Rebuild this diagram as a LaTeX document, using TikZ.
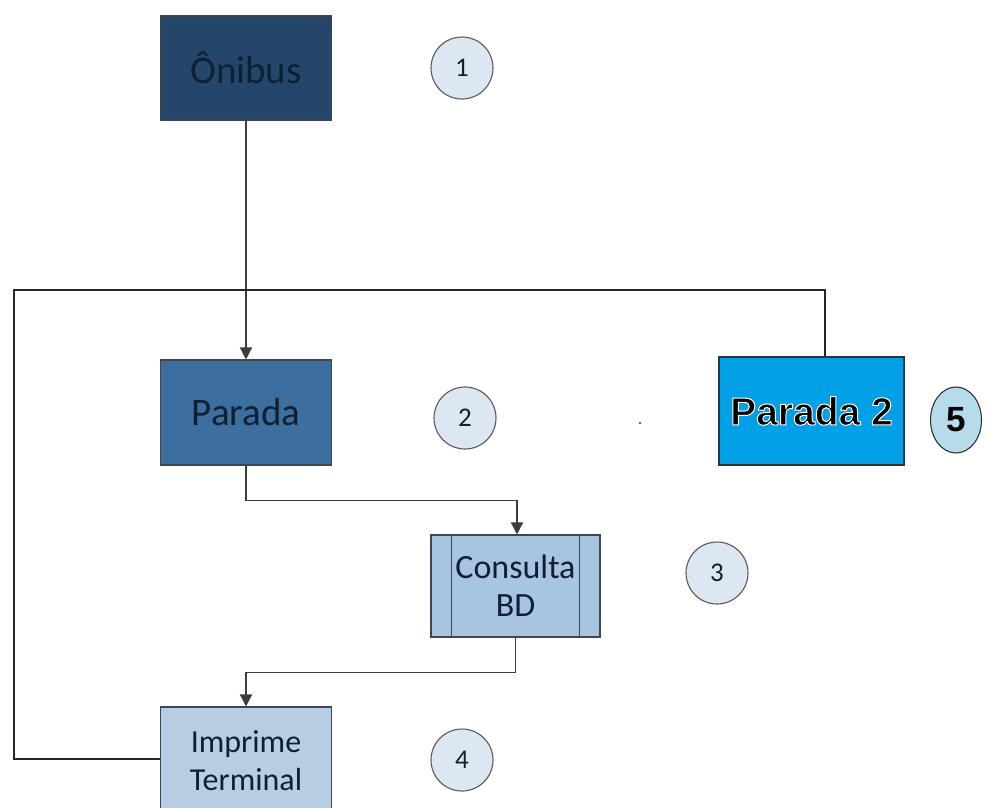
\documentclass[tikz,border=0pt]{standalone}
\usepackage{fontspec}
\setmainfont{Carlito}
\newfontfamily\boldsans{Liberation Sans}[BoldFont={* Bold}]
\usetikzlibrary{arrows.meta,calc,shapes.geometric}

\definecolor{navyA}{RGB}{36,70,107}
\definecolor{blueB}{RGB}{61,110,160}
\definecolor{cyanP}{RGB}{2,160,230}
\definecolor{paleC}{RGB}{168,196,224}
\definecolor{paleD}{RGB}{182,205,228}
\definecolor{bubble}{RGB}{221,231,242}
\definecolor{bubbleV}{RGB}{182,220,236}
\definecolor{edge}{RGB}{62,70,80}
\definecolor{wire}{RGB}{60,60,60}
\definecolor{ink}{RGB}{16,32,52}

% black lettering whose outline is stroked in white (fill, then stroke)
\newcommand{\rimtext}[1]{%
  \special{pdf:literal direct 1 1 1 RG 1.0 w 2 Tr}#1%
  \special{pdf:literal direct 0 Tr 0 G}}

\tikzset{
  box/.style={draw=edge, line width=1.1pt, minimum width=171pt, align=center,
    text=ink, font=\fontsize{39}{38}\selectfont, inner sep=0pt},
  tag/.style={circle, draw=wire!85, line width=1.1pt, fill=bubble, minimum size=62pt,
    inner sep=0pt, text=ink, font=\fontsize{27}{27}\selectfont},
  link/.style={draw=wire, line width=1.4pt},
  arr/.style={link, -{Triangle[width=12pt,length=12pt]}},
  loop/.style={draw=black!85, line width=1.8pt}
}

\begin{document}
\begin{tikzpicture}[x=1pt,y=-1pt]
  \useasboundingbox (0,0) rectangle (987,807);
  \clip (0,0) rectangle (987,807);
  \fill[white] (0,0) rectangle (987,807);

  % process boxes
  \node[box, fill=navyA, minimum height=104pt] (onibus) at (246,68) {Ônibus};
  \node[box, fill=blueB, minimum height=105pt] (parada) at (246,412.5) {Parada};
  \node[box, fill=paleC, minimum width=169pt, minimum height=102pt,
        font=\fontsize{34}{38}\selectfont] (consulta) at (515.5,586) {Consulta\\BD};
  \draw[edge, line width=1.1pt] ([xshift=21pt]consulta.north west) -- ([xshift=21pt]consulta.south west);
  \draw[edge, line width=1.1pt] ([xshift=-21pt]consulta.north east) -- ([xshift=-21pt]consulta.south east);
  \node[box, fill=paleD, minimum height=108pt,
        font=\fontsize{32}{38}\selectfont] (imprime) at (246,761) {Imprime\\Terminal};

  % second stop
  \node[draw=black!80, line width=1.1pt, fill=cyanP, minimum width=185pt, minimum height=108pt,
        inner sep=0pt, text=black, font=\boldsans\bfseries\fontsize{39}{39}\selectfont]
        (parada2) at (811.5,411) {\rimtext{Parada 2}};

  % step numbers
  \node[tag] (n1) at (462,68) {1};
  \node[tag] (n2) at (465,418) {2};
  \node[tag] (n3) at (717,573) {3};
  \node[tag] (n4) at (462,760) {4};
  \node[ellipse, draw=black!80, line width=1.1pt, fill=bubbleV, minimum width=51pt,
        minimum height=66pt, inner sep=0pt,
        font=\boldsans\bfseries\fontsize{35}{35}\selectfont] (n5) at (956,420) {5};

  % stray mark
  \node[circle, fill=black!70, inner sep=0pt, minimum size=2.5pt] (dot) at (640,423) {};

  % flow
  \draw[arr] (onibus.south) -- (parada.north);
  \draw[arr] (parada.south) -- ++(0,35) -| ([xshift=1.5pt]consulta.north);
  \draw[arr] (consulta.south) -- ++(0,35) -| (imprime.north);

  % return path towards the second stop
  \coordinate (topleft) at (14,290);
  \coordinate (topright) at (825,290);
  \draw[loop] ([yshift=2pt]imprime.west) -| (topleft) -- (topright) -- (topright |- parada2.north);
\end{tikzpicture}
\end{document}
